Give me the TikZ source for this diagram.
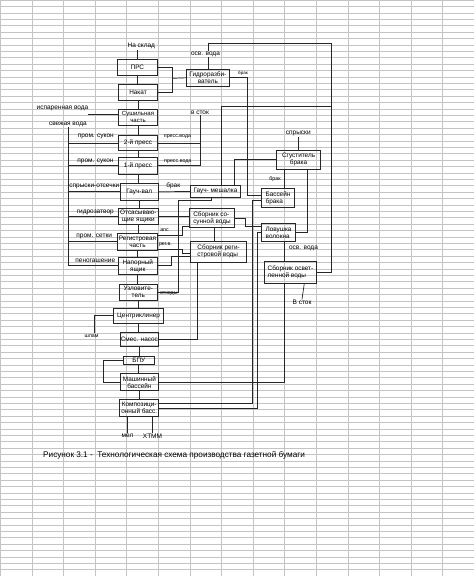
\documentclass[tikz,border=0pt]{standalone}
\usepackage{fontspec}
\setmainfont{Liberation Sans}
\begin{document}
\begin{tikzpicture}[x=1pt,y=-1pt,
    box/.style={draw=black!85, line width=0.8pt, align=center, inner sep=0.5pt, font=\fontsize{6.4}{7}\selectfont},
    lbl/.style={inner sep=0.8pt, font=\fontsize{6.5}{7}\selectfont},
    tiny/.style={inner sep=0.6pt, font=\fontsize{5.3}{6}\selectfont},
    conn/.style={draw=black!85, line width=0.7pt}]
    % Define colours
    \definecolor{gridColour}{HTML}{C4C4C4}

    \useasboundingbox (0,0) rectangle (474,576);

  % Draw the sheet grid
  \foreach \i in {0,...,14}
    \draw[gridColour, line width=0.7pt] (0.4+31.6*\i,0) -- (0.4+31.6*\i,576);
  \foreach \j in {0,...,90}
    \draw[gridColour, line width=0.6pt] (0,6.4*\j) -- (474,6.4*\j);

  % Main line of the machine
  \node[box, minimum width=39.3pt, minimum height=15.7pt] (prs) at (137.4,67.2) {ПРС};
  \node[box, minimum width=39.4pt, minimum height=16.4pt] (nakat) at (138,92.5) {Накат};
  \node[box, minimum width=39.4pt, minimum height=16pt, font=\fontsize{6}{6.6}\selectfont] (sush) at (138,117) {Сушильная\\часть};
  \node[box, minimum width=39.4pt, minimum height=15.7pt] (press2) at (138,142.9) {2-й пресс};
  \node[box, minimum width=39.4pt, minimum height=17pt] (press1) at (138,165.8) {1-й пресс};
  \node[box, minimum width=38.3pt, minimum height=17pt] (gauchval) at (139.2,191.8) {Гауч-вал};
  \node[box, minimum width=40pt, minimum height=16pt] (otsas) at (138.3,216.3) {Отсасываю-\\щие ящики};
  \node[box, minimum width=40.4pt, minimum height=17.3pt] (reg) at (137.5,241.7) {Регистровая\\часть};
  \node[box, minimum width=38.5pt, minimum height=17pt] (napor) at (137.8,265.8) {Напорный\\ящик};
  \node[box, minimum width=38pt, minimum height=16pt] (uzlov) at (138.3,292) {Узловите-\\тель};
  \node[box, minimum width=50pt, minimum height=14.5pt] (centr) at (138.6,315.8) {Центриклинер};
  \node[box, minimum width=37.2pt, minimum height=13.7pt] (smes) at (139.4,339.4) {Смес. насос};
  \node[box, minimum width=31pt, minimum height=8.2pt] (bpu) at (138.8,360.4) {БПУ};
  \node[box, minimum width=37.3pt, minimum height=16.7pt] (mash) at (139.4,382.2) {Машинный\\бассейн};
  \node[box, minimum width=38.8pt, minimum height=16.2pt] (komp) at (139.2,407.9) {Композици-\\онный басс.};

  % Water and broke side
  \node[box, minimum width=42.3pt, minimum height=16.9pt] (gidro) at (207.9,77.8) {Гидроразби-\\ватель};
  \node[box, minimum width=50.5pt, minimum height=11.9pt] (gmesh) at (215.5,191.4) {Гауч- мешалка};
  \node[box, minimum width=45.1pt, minimum height=19.3pt, align=left] (sbsos) at (212,218) {Сборник со-\\сунной воды};
  \node[box, minimum width=56.2pt, minimum height=21.3pt, align=left] (sbreg) at (218.6,251.7) {Сборник реги-\\стровой воды};
  \node[box, minimum width=43.7pt, minimum height=19.5pt] (sgust) at (298.6,159.8) {Сгуститель\\брака};
  \node[box, minimum width=33pt, minimum height=19.5pt, align=left] (basbr) at (278,198) {Бассейн\\брака};
  \node[box, minimum width=33.8pt, minimum height=18.1pt, align=left] (lovush) at (278.6,232.5) {Ловушка\\волокна};
  \node[box, minimum width=51.5pt, minimum height=21.2pt, align=left] (sbosv) at (290.5,272.4) {Сборник освет-\\ленной воды};

  % Labels
  \node[lbl] (nasklad) at (141.3,45.7) {На склад};
  \node[lbl] (osvv1) at (205.5,54) {осв. вода};
  \node[tiny, font=\fontsize{4.5}{5}\selectfont] (brak1) at (243,73) {брак};
  \node[lbl] (isp) at (62.5,108.3) {испаренная вода};
  \node[lbl] (svez) at (67.9,124) {свежая вода};
  \node[lbl] (suk2) at (95.8,136) {пром. сукон};
  \node[lbl] (suk1) at (95.5,161.7) {пром. сукон};
  \node[lbl] (spr) at (94.3,186) {спрыски-отсечки};
  \node[lbl] (gidrz) at (95.3,212.3) {гидрозатвор};
  \node[lbl] (setki) at (94.2,236.7) {пром. сетки};
  \node[lbl] (peno) at (95.3,261) {пеногашение};
  \node[lbl] (vstok1) at (200,112.7) {в сток};
  \node[tiny] (pv2) at (177.5,136.7) {пресс.вода};
  \node[tiny] (pv1) at (177.8,161.7) {пресс.вода};
  \node[lbl] (brak2) at (173.3,185.5) {брак};
  \node[tiny] (aps) at (164.5,230.5) {апс};
  \node[tiny] (regv) at (165.5,245) {рег.в.};
  \node[tiny] (othody) at (168.8,294) {отходы};
  \node[tiny] (shlam) at (91.5,335.7) {шлам};
  \node[lbl] (mel) at (127.5,435.7) {мел};
  \node[lbl] (htmm) at (152.5,436.7) {ХТММ};
  \node[lbl] (spryski) at (298.3,133.3) {спрыски};
  \node[tiny] (brak3) at (275,179.3) {брак};
  \node[lbl] (osvv2) at (303.5,248.8) {осв. вода};
  \node[lbl] (vstok2) at (302,302.6) {В сток};
  \node[anchor=west, inner sep=0pt, font=\fontsize{8.2}{9}\selectfont] (caption) at (43,455)
    {Рисунок 3.1 -\ \ Технологическая схема производства газетной бумаги};

  % Corner points
  \coordinate (j1) at (172.7,78.3);
  \coordinate (ctop) at (331,43);
  \coordinate (cmid) at (331,106.7);
  \coordinate (kb) at (247.7,195);
  \coordinate (ie) at (88.3,114);
  \coordinate (ox) at (178.3,200.5);
  \coordinate (ap) at (182.7,235);
  \coordinate (rv) at (182.7,249);
  \coordinate (nj) at (171.7,256.3);
  \coordinate (sl) at (245.7,226);
  \coordinate (kx) at (284.3,0);
  \coordinate (b1) at (252.3,403.8);
  \coordinate (b2) at (257,408.8);
  \coordinate (bl) at (103,382.2);

  % Main flow
  \draw[conn] (prs.north) -- (prs.north |- nasklad.south);
  \foreach \a/\b in {prs/nakat, nakat/sush, sush/press2, press2/press1, press1/gauchval,
      gauchval/otsas, otsas/reg, reg/napor, napor/uzlov, uzlov/centr, centr/smes,
      smes/bpu, bpu/mash, mash/komp}
    \draw[conn] (\a.south) -- (\a.south |- \b.north);
  \draw[conn] (komp.south -| mel) -- (mel.north);
  \draw[conn] (komp.south -| htmm) -- (htmm.north);

  % Pulper
  \draw[conn] (prs.east) -| (j1) |- (nakat.east);
  \draw[conn] (j1) -- (gidro.west);
  \draw[conn] (gidro.north) -- (gidro.north |- osvv1.south);
  \draw[conn] (gidro.north |- osvv1.north) |- (ctop) |- (sbosv.east);
  \draw[conn] (cmid) -| ([xshift=5.8pt]gmesh.north);
  \draw[conn] (gidro.east) -| (kb) -- (kb -| basbr.west);

  % Fresh water and presses
  \draw[conn] (ie) -- (ie -| sush.west);
  \draw[conn] (svez.south) |- (napor.west);
  \foreach \b in {press2, press1, gauchval, otsas, reg}
    \draw[conn] (svez.south |- \b.west) -- (\b.west);
  \draw[conn] (vstok1.south) |- (press1.east);
  \draw[conn] (press2.east) -- (press2.east -| vstok1.south);

  % Broke and white water
  \draw[conn] (gauchval.east) -- (gmesh.west);
  \draw[conn] (uzlov.east) -| (ox) -| ([xshift=-4.5pt]gmesh.south);
  \draw[conn] (otsas.east) -- (otsas.east -| sbsos.west);
  \draw[conn] (ap -| reg.east) -- (ap) |- ([yshift=-8.7pt]sbsos.west);
  \draw[conn] (rv -| reg.east) -- (rv) |- ([yshift=-1.8pt]sbreg.west);
  \draw[conn] (napor.east) -| (nj) -- (nj -| sbreg.west);
  \draw[conn] ([xshift=-20.9pt]sbreg.south) |- (smes.east);
  \draw[conn] ([xshift=2.3pt]sbsos.south) -- ([xshift=2.3pt]sbsos.south |- sbreg.north);
  \draw[conn] (sbsos.east) -| (sl) -- (sl -| lovush.west);
  \draw[conn] (spryski.south) -- (spryski.south |- sgust.north);
  \draw[conn] (sgust.west) -| ([xshift=18.8pt]gmesh.north);
  \draw[conn] (sgust.south -| kx) -- (basbr.north -| kx);
  \draw[conn] ([xshift=8.7pt]sgust.south) |- (lovush.east);
  \draw[conn] (lovush.south -| kx) -- (sbosv.north -| kx);
  \draw[conn] ([xshift=13.8pt]sbosv.south) -- (vstok2.north);
  \draw[conn] (sbosv.south -| kx) |- (mash.east);
  \draw[conn] ([yshift=-2.4pt]basbr.west) -| (b1) -- (b1 -| komp.east);
  \draw[conn] (lovush.west) -| (b2) -- (b2 -| komp.east);

  % Sludge and machine chest loop
  \draw[conn] (centr.west) -| ([xshift=2.8pt]shlam.north);
  \draw[conn] (bpu.west) -| (bl) -- (mash.west);
\end{tikzpicture}
\end{document}
